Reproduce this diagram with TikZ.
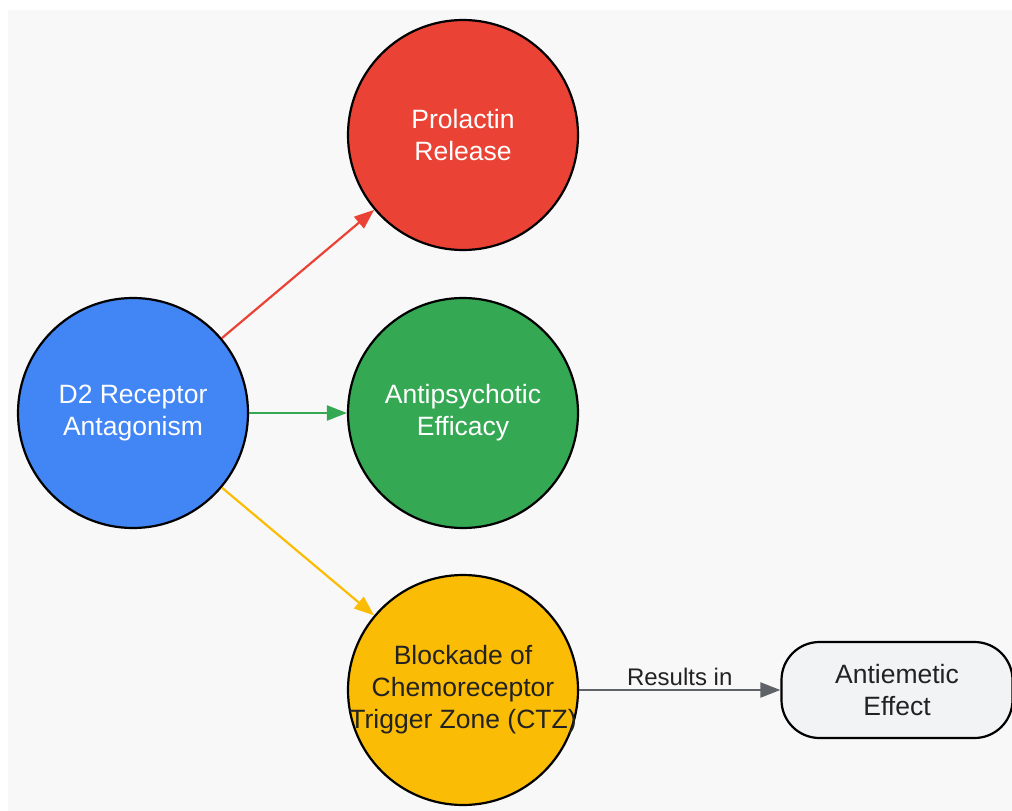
\documentclass[tikz,border=0pt]{standalone}
\usepackage{fontspec}
\setmainfont{Liberation Sans}
\usetikzlibrary{arrows.meta}
\definecolor{bgc}{HTML}{F8F8F8}
\definecolor{gblue}{HTML}{4285F4}
\definecolor{gred}{HTML}{EA4335}
\definecolor{ggreen}{HTML}{34A853}
\definecolor{gyellow}{HTML}{FBBC05}
\definecolor{ggrayfill}{HTML}{F1F3F4}
\definecolor{ggray}{HTML}{5F6368}
\definecolor{dtext}{HTML}{222222}
\tikzset{
  circ/.style={circle, draw=black, line width=2.2pt, minimum size=230pt, inner sep=-12pt,
    align=center, font=\fontsize{26.5}{32}\selectfont, execute at begin node={\rule{0pt}{33pt}}},
  rbox/.style={rectangle, rounded corners=38pt, draw=black, line width=2.2pt, fill=ggrayfill, minimum width=231pt,
    minimum height=96pt, inner sep=0pt, align=center, text=dtext, font=\fontsize{26.5}{32}\selectfont},
  conn/.style={line width=2.2pt, -{Triangle[length=20pt,width=15pt]}},
  lbl/.style={font=\fontsize{24}{28}\selectfont, text=dtext}
}
\begin{document}
\begin{tikzpicture}[x=1pt,y=1pt]
\useasboundingbox (0,0) rectangle (1012,-811);
\fill[white] (0,0) rectangle (1012,-811);
\fill[bgc] (8,-10) rectangle (1012,-811);
\node[circ, fill=gblue, text=white] (d2) at (133,-413) {D2 Receptor\\Antagonism};
\node[circ, fill=gred, text=white] (pro) at (463,-135) {Prolactin\\Release};
\node[circ, fill=ggreen, text=white] (anti) at (463,-413) {Antipsychotic\\Efficacy};
\node[circ, fill=gyellow, text=dtext] (ctz) at (463,-690) {Blockade of\\Chemoreceptor\\Trigger Zone (CTZ)};
\node[rbox] (eme) at (897,-690) {Antiemetic\\Effect};
\draw[conn, draw=gred, fill=gred] (d2) -- (pro);
\draw[conn, draw=ggreen, fill=ggreen] (d2) -- (anti);
\draw[conn, draw=gyellow, fill=gyellow] (d2) -- (ctz);
\draw[conn, draw=ggray, fill=ggray] (ctz) -- node[lbl, above, pos=0.5, yshift=0pt] {Results in} (eme);
\end{tikzpicture}
\end{document}
